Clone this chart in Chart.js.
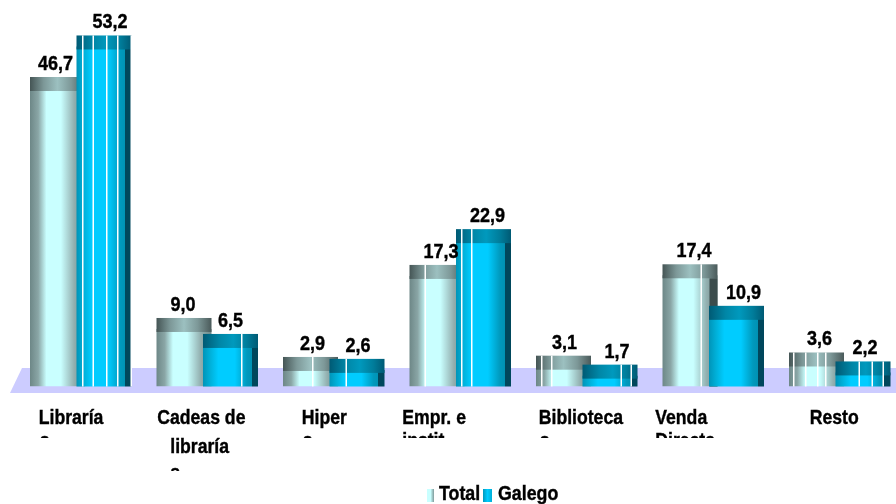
<!DOCTYPE html>
<html><head><meta charset="utf-8">
<style>html,body{margin:0;padding:0;background:#fff;overflow:hidden}#w{width:896px;height:504px;overflow:hidden}canvas{display:block}</style>
<script src="https://cdn.jsdelivr.net/npm/chart.js@4"></script>
</head><body><div id="w"><canvas id="c" width="903" height="504"></canvas></div>
<script>
const categories = ["Libraría","Cadeas de librarías","Hipers","Empr. e instit.","Bibliotecas","Venda Directa","Resto"];
const seriesNames = ["Total","Galego"];
const totalValues = [46.7,9.0,2.9,17.3,3.1,17.4,3.6];
const galegoValues = [53.2,6.5,2.6,22.9,1.7,10.9,2.2];

// wrapped tick text, as it is broken in the picture
const tickLines = [["Libraría","s"],["Cadeas de","libraría","s"],["Hiper","s"],["Empr. e","instit."],["Biblioteca","s"],["Venda","Directa"],["Resto"]];

// ---- style only ----
const FAMILY = '"Liberation Sans", Arial, sans-serif';
const BAR_W = 55, BAR_STEP = 46.5, CAT_STEP = 126.5;
const tickLeft = [[-42,-41],[-50,-37,-37],[-32,-31],[-58,-58],[-48,-47],[-58,-58],[-30]];
const tickBase = [[424,447],[424,453,479],[424,447],[424,447],[424,447],[424,447],[424]];
const tickClip = [[438,438],[480,480,471],[438,438],[438,438],[438,438],[438,438],[480]];
const labelNudge = [[-2,6],[-1,0],[2,1],[4,4],[1,7],[4,7],[3,2]];
const stripes = [
  [[],[],[29],[15],[5,15],[38],[4,16,28,36]],
  [[5.5,16,29.5,40.5,54],[38],[16],[5,15],[38,48],[],[23,36,47]]
];
const darkBand = [[null,null,null,null,null,[47,8],null],[null,null,null,null,null,null,null]];
const bodyStops = [
  [[0,'#6d8787'],[.15,'#8aa6a6'],[.3,'#c9ffff'],[.56,'#c9ffff'],[.8,'#93b0b0'],[1,'#6f8888']],
  [[0,'#0094b8'],[.12,'#00aed6'],[.28,'#00ccff'],[.58,'#00ccff'],[.8,'#0099bd'],[.885,'#0092b4'],[.89,'#00475c'],[1,'#00475c']]
];
const capStops = [
  [[0,'#455555'],[.25,'#7d9898'],[.5,'#9cc0c0'],[.75,'#7d9898'],[1,'#4a5a5a']],
  [[0,'#005a74'],[.3,'#0086a6'],[.55,'#0099bd'],[.8,'#007c9a'],[1,'#005a74']]
];
function grad(ctx, left, stops){
  const g = ctx.createLinearGradient(left,0,left+BAR_W,0);
  stops.forEach(s=>g.addColorStop(s[0],s[1]));
  return g;
}
function barLeft(chart, ds, i){
  return chart.scales.x.getPixelForValue(i) + (ds===0?-1:1)*BAR_STEP/2 - BAR_W/2;
}
function bodyFill(c){
  if(!c.chart.chartArea) return '#ccc';
  return grad(c.chart.ctx, barLeft(c.chart,c.datasetIndex,c.dataIndex), bodyStops[c.datasetIndex]);
}
// text squeezed horizontally and slightly emboldened, as in the reference
function squeezed(ctx, t, x, y, size, sx, align){
  ctx.save();
  ctx.font = 'bold '+size+'px '+FAMILY;
  ctx.textAlign = align; ctx.textBaseline='alphabetic'; ctx.fillStyle='#000'; ctx.strokeStyle='#000'; ctx.lineWidth=.4;
  ctx.translate(x,y); ctx.scale(sx,1);
  ctx.fillText(t,0,0);
  ctx.strokeText(t,0,0);
  ctx.restore();
}
function drawCaps(chart, ds){
  const ctx = chart.ctx, meta = chart.getDatasetMeta(ds);
  meta.data.forEach((el,i)=>{
    const left = el.x-BAR_W/2, top = el.y-11, bottom = el.base;
    const band = darkBand[ds][i];
    if(band){ ctx.fillStyle='#3c4c4c'; ctx.fillRect(left+band[0],el.y+3,band[1],bottom-el.y-3); }
    ctx.fillStyle = grad(ctx,left,capStops[ds]);
    ctx.fillRect(left,top,BAR_W,14);
    ctx.fillStyle = '#fff';
    stripes[ds][i].forEach(o=>ctx.fillRect(left+o,top,1.5,bottom-top));
  });
}
function drawValues(chart, ds){
  const meta = chart.getDatasetMeta(ds);
  meta.data.forEach((el,i)=>{
    const v = chart.data.datasets[ds].data[i];
    squeezed(chart.ctx, v.toFixed(1).replace('.',','), el.x+labelNudge[i][ds], el.y-18, 20, .9, 'center');
  });
}
const art = {
  id:'art',
  beforeDatasetsDraw(chart){
    const ctx = chart.ctx;
    ctx.fillStyle='#ccccff';
    ctx.beginPath();ctx.moveTo(22,368);ctx.lineTo(903,368);ctx.lineTo(903,393);ctx.lineTo(10,393);ctx.closePath();ctx.fill();
  },
  beforeDatasetDraw(chart,args){ if(args.index===1) return false; },
  afterDatasetDraw(chart,args){
    if(args.index!==0) return;
    drawCaps(chart,0);
    chart.getDatasetMeta(1).controller.draw();
    drawCaps(chart,1);
  },
  afterDraw(chart){
    const ctx = chart.ctx;
    drawValues(chart,0); drawValues(chart,1);
    tickLines.forEach((lines,i)=>{
      const cx = chart.scales.x.getPixelForValue(i);
      lines.forEach((t,j)=>{
        ctx.save();
        ctx.beginPath();ctx.rect(0,0,903,tickClip[i][j]);ctx.clip();
        squeezed(ctx,t,cx+tickLeft[i][j],tickBase[i][j],20.5,.86,'left');
        ctx.restore();
      });
    });
    // legend
    const tg=ctx.createLinearGradient(427,0,434,0);tg.addColorStop(0,'#c9ffff');tg.addColorStop(.5,'#c9ffff');tg.addColorStop(1,'#7f9a9a');
    ctx.fillStyle=tg;ctx.fillRect(427,489,7,13);
    const gg=ctx.createLinearGradient(483,0,492,0);gg.addColorStop(0,'#0099bd');gg.addColorStop(.5,'#00ccff');gg.addColorStop(1,'#00aed6');
    ctx.fillStyle=gg;ctx.fillRect(483,489,9,13);
    squeezed(ctx,seriesNames[0],439,500,20,.89,'left');
    squeezed(ctx,seriesNames[1],498,500,20,.89,'left');
  }
};
new Chart(document.getElementById('c'),{
  type:'bar',
  data:{labels:categories,datasets:[
    {label:seriesNames[0],data:totalValues,backgroundColor:bodyFill,borderWidth:0},
    {label:seriesNames[1],data:galegoValues,backgroundColor:bodyFill,borderWidth:0}
  ]},
  options:{
    responsive:false,animation:false,
    categoryPercentage:2*BAR_STEP/CAT_STEP,
    barPercentage:BAR_W/BAR_STEP,
    layout:{padding:{left:17.5,right:0,top:3,bottom:117.5}},
    scales:{
      x:{display:false},
      y:{display:false,min:0,max:60}
    },
    plugins:{legend:{display:false},tooltip:{enabled:false},title:{display:false}}
  },
  plugins:[art]
});
</script></body></html>
